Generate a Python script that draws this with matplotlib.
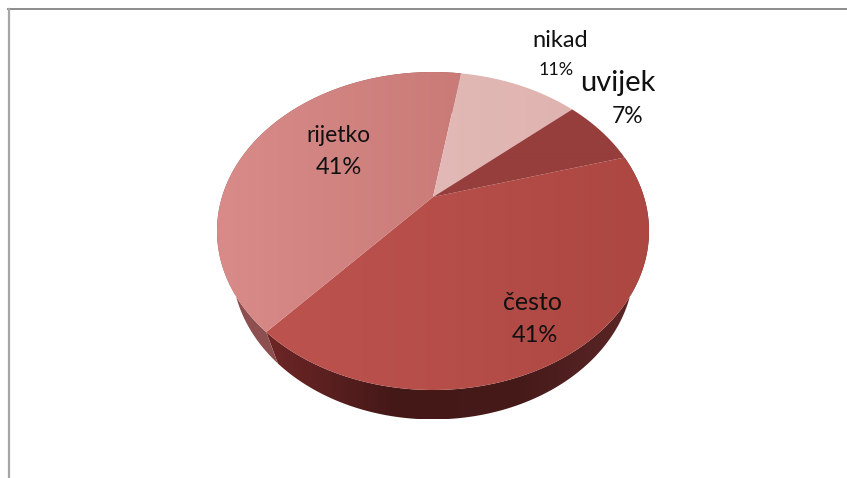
import matplotlib
matplotlib.use("Agg")
import matplotlib.pyplot as plt
import numpy as np
from matplotlib.colors import LinearSegmentedColormap
from matplotlib.patches import Polygon

plt.rcParams["font.family"] = ["Lato", "DejaVu Sans"]

# clockwise from the start angle
categories = ["često", "rijetko", "nikad", "uvijek"]
shares = [41, 41, 11, 7]

start_angle = 16
top_colors = {
    "često": ["#bd534e", "#ad4742"],
    "rijetko": ["#d88b89", "#ca7b78"],
    "nikad": ["#e2b9b6", "#dfb3b0"],
    "uvijek": ["#963e3c", "#963e3c"],
}
side_colors = {
    "često": ["#6e2626", "#451818", "#471a1a", "#5e2828"],
    "rijetko": ["#8d5050", "#8d4c4c"],
}

# perspective of the tilted disc, pixels
cx, cy = 433, 197
sx, sy, k = 211, 151.7, 0.214
rim_cy = 231
low_cy, low_sx, low_sy = 266, 0.93, 0.965


def project(theta, r=1.0):
    u = r * np.cos(np.radians(theta))
    v = r * np.sin(np.radians(theta))
    w = 1 + k * v
    return cx + sx * u / w, cy - sy * v / w


def gradient(ax, patch, colors):
    cmap = LinearSegmentedColormap.from_list("g", colors)
    xs, ys = patch.get_xy().T
    g = np.linspace(0, 1, 256).reshape(1, -1)
    im = ax.imshow(g, cmap=cmap, aspect="auto", zorder=patch.get_zorder(),
                   extent=(xs.min(), xs.max(), ys.max(), ys.min()))
    im.set_clip_path(patch)


fig = plt.figure(figsize=(8.47, 4.78), dpi=100)
ax = fig.add_axes([0, 0, 1, 1])

# chart frame, only top and left survive the crop
ax.plot([7.5, 847], [9, 9], color="#8c8c8c", lw=1.4, zorder=1)
ax.plot([8.5, 8.5], [9, 478], color="#a6a6a6", lw=1.6, zorder=1)

edges = start_angle - np.cumsum([0] + shares) * 3.6
for name, a0, a1 in zip(categories, edges[:-1], edges[1:]):
    th = np.linspace(a0, a1, 200)
    x, y = project(th)

    if name in side_colors:
        # wall below the rim, the top face hides what is behind it
        x2 = cx + (x - cx) * low_sx
        y2 = low_cy + (y - rim_cy) * low_sy
        pts = np.r_[np.c_[x, y], np.c_[x2, y2][::-1]]
        wall = ax.add_patch(Polygon(pts, fc="none", ec="none", zorder=2))
        gradient(ax, wall, side_colors[name])

    pts = np.r_[[[cx, cy]], np.c_[x, y]]
    face = ax.add_patch(Polygon(pts, fc="none", ec="none", zorder=3))
    gradient(ax, face, top_colors[name])

ax.text(560, 40, categories[2], fontsize=17, ha="center", va="center", color="#111111", zorder=5)
ax.text(556, 70, f"{shares[2]}%", fontsize=13, ha="center", va="center", color="#111111", zorder=5)
ax.text(618, 83, categories[3], fontsize=21, ha="center", va="center", color="#111111", zorder=5)
ax.text(628, 116, f"{shares[3]}%", fontsize=16.5, ha="center", va="center", color="#111111", zorder=5)
ax.text(338, 135, categories[1], fontsize=16.5, ha="center", va="center", color="#111111", zorder=5)
ax.text(339, 167, f"{shares[1]}%", fontsize=17, ha="center", va="center", color="#111111", zorder=5)
ax.text(532, 302, categories[0], fontsize=18, ha="center", va="center", color="#111111", zorder=5)
ax.text(535, 335, f"{shares[0]}%", fontsize=17, ha="center", va="center", color="#111111", zorder=5)

ax.set_xlim(0, 847)
ax.set_ylim(478, 0)
ax.axis("off")
fig.savefig("out.png", dpi=100)
